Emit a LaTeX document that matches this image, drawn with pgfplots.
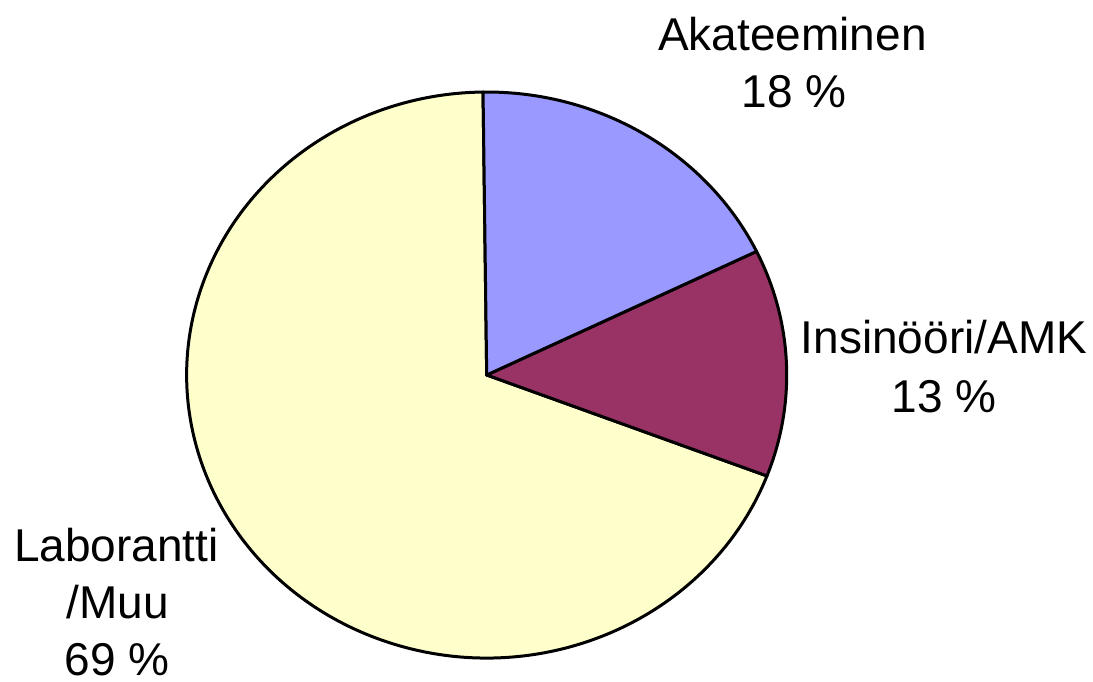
\documentclass[border=0pt]{standalone}
\usepackage{pgfplots}
\pgfplotsset{compat=1.18}
\usepackage{fontspec}
\setmainfont{Liberation Sans}
\definecolor{akat}{HTML}{9999FF}
\definecolor{insi}{HTML}{993366}
\definecolor{labo}{HTML}{FFFFCC}
% shares in percent
\def\valA{18}% Akateeminen
\def\valB{13}% Insinoori/AMK
\def\valC{69}% Laborantti/Muu
\pgfmathsetmacro{\sA}{90.7}
\pgfmathsetmacro{\eA}{\sA-\valA*3.6}
\pgfmathsetmacro{\eB}{\eA-\valB*3.6}
\pgfmathsetmacro{\eC}{\eB-\valC*3.6}
\begin{document}
\begin{tikzpicture}
\begin{axis}[scale only axis, width=546.5pt, height=340.5pt,
  xmin=0, xmax=1093, ymin=0, ymax=681, y dir=reverse,
  hide axis, clip=false]
\filldraw[fill=labo, draw=black, line width=1.5pt, line join=round]
  (axis cs:486.7,375) -- ++(\eB:150pt and 141.5pt) arc[start angle=\eB, end angle=\eC, x radius=150pt, y radius=141.5pt] -- cycle;
\filldraw[fill=insi, draw=black, line width=1.5pt, line join=round]
  (axis cs:486.7,375) -- ++(\eA:150pt and 141.5pt) arc[start angle=\eA, end angle=\eB, x radius=150pt, y radius=141.5pt] -- cycle;
\filldraw[fill=akat, draw=black, line width=1.5pt, line join=round]
  (axis cs:486.7,375) -- ++(\sA:150pt and 141.5pt) arc[start angle=\sA, end angle=\eA, x radius=150pt, y radius=141.5pt] -- cycle;
\begin{scope}[every node/.style={anchor=base, inner sep=0pt, font=\fontsize{23}{28.5}\selectfont}]
\node at (axis cs:792.5,50) {Akateeminen};
\node at (axis cs:794,107) {18 \%};
\node at (axis cs:944,353) {Insinööri/AMK};
\node at (axis cs:944,412) {13 \%};
\node at (axis cs:116.5,561) {Laborantti};
\node at (axis cs:117.5,618) {/Muu};
\node at (axis cs:117,675) {69 \%};
\end{scope}
\end{axis}
\pgfresetboundingbox
\useasboundingbox (current axis.south west) rectangle (current axis.north east);
\end{tikzpicture}
\end{document}
